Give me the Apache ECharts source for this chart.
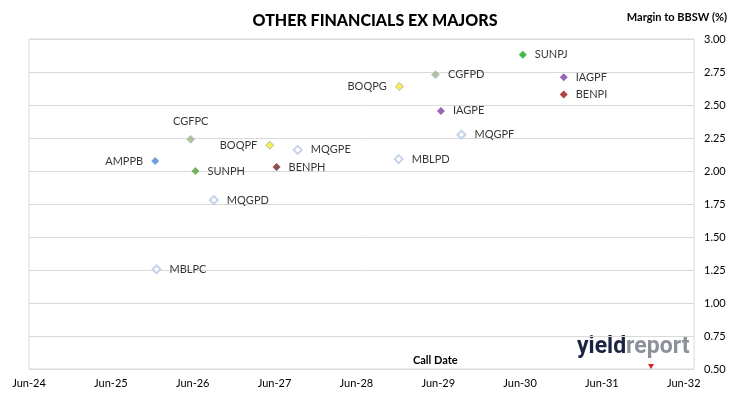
<!DOCTYPE html>
<html>
<head>
<meta charset="utf-8">
<title>Other Financials ex Majors</title>
<script src="https://cdn.jsdelivr.net/npm/echarts@6/dist/echarts.min.js"></script>
<style>
  html, body { margin: 0; padding: 0; background: #fff; }
  #chart { width: 730px; height: 399px; }
</style>
</head>
<body>
<div id="chart"></div>
<script>
// securities, call dates and margins
const names = ['SUNPJ', 'CGFPD', 'BOQPG', 'IAGPF', 'BENPI', 'IAGPE', 'MQGPF', 'MBLPD',
               'CGFPC', 'BOQPF', 'MQGPE', 'AMPPB', 'SUNPH', 'BENPH', 'MQGPD', 'MBLPC'];
const callDates = ['2030-06-13', '2029-05-19', '2028-12-10', '2030-12-13', '2030-12-13', '2029-06-13', '2029-09-13', '2028-12-07',
                   '2026-05-22', '2027-05-10', '2027-09-13', '2025-12-16', '2026-06-13', '2027-06-10', '2026-09-04', '2025-12-22'];
const margins = [2.88, 2.73, 2.64, 2.71, 2.58, 2.455, 2.275, 2.09,
                 2.24, 2.195, 2.16, 2.075, 2.00, 2.03, 1.78, 1.255];
const yTicks = [0.5, 3.0];

// marker look per issuer
const markerStyle = {
  SUNPJ: { color: '#14a81c' },
  SUNPH: { color: '#5b9d3c' },
  CGFPD: { color: '#a4b27c', borderColor: '#a9c0dc', borderWidth: 1 },
  CGFPC: { color: '#a4b27c', borderColor: '#a9c0dc', borderWidth: 1 },
  BOQPG: { color: '#f2ea2c', borderColor: '#a8a8a0', borderWidth: 1 },
  BOQPF: { color: '#f2ea2c', borderColor: '#a8a8a0', borderWidth: 1 },
  IAGPF: { color: '#7a3ea6' },
  IAGPE: { color: '#7a3ea6' },
  BENPI: { color: '#a01414' },
  BENPH: { color: '#6e2626' },
  AMPPB: { color: '#4f86d0' },
  MQGPF: { color: '#ffffff', borderColor: '#b6c8e6', borderWidth: 2 },
  MQGPE: { color: '#ffffff', borderColor: '#b6c8e6', borderWidth: 2 },
  MQGPD: { color: '#ffffff', borderColor: '#b6c8e6', borderWidth: 2 },
  MBLPD: { color: '#ffffff', borderColor: '#b6c8e6', borderWidth: 2 },
  MBLPC: { color: '#ffffff', borderColor: '#b6c8e6', borderWidth: 2 }
};
// where the name sits next to the marker
const labelSide = { AMPPB: 'left', BOQPG: 'left', BOQPF: 'left', CGFPC: 'top' };

// months since Jun-24
const toMonths = (s) => {
  const [y, m, d] = s.split('-').map(Number);
  return (y - 2024) * 12 + (m - 6) + (d - 1) / 30;
};

const points = names.map((name, i) => ({
  name: name,
  value: [toMonths(callDates[i]), margins[i]],
  itemStyle: markerStyle[name],
  label: { position: labelSide[name] || 'right', distance: 8 }
}));

const myChart = echarts.init(document.getElementById('chart'));

const font = 'Lato, "Open Sans", sans-serif';

const options = {
  animation: false,
  title: {
    text: 'OTHER FINANCIALS EX MAJORS',
    left: 370,
    textAlign: 'center',
    top: 8,
    textStyle: { fontFamily: font, fontSize: 16, fontWeight: 900, color: '#000' }
  },
  grid: {
    left: 29, right: 36, top: 39, bottom: 30,
    show: true, borderColor: '#d9d9d9', borderWidth: 1
  },
  xAxis: {
    type: 'value',
    min: 0,
    max: 97.5,
    interval: 12,
    axisLine: { show: false },
    axisTick: { show: false },
    splitLine: { show: false },
    axisLabel: {
      margin: 9,
      color: '#000',
      fontFamily: font,
      fontSize: 11,
      showMaxLabel: false,
      formatter: (v) => (v % 12 === 0 ? 'Jun-' + (24 + v / 12) : '')
    }
  },
  yAxis: {
    type: 'value',
    position: 'right',
    min: yTicks[0],
    max: yTicks[1],
    interval: 0.25,
    axisLine: { show: false },
    axisTick: { show: false },
    splitLine: { lineStyle: { color: '#d9d9d9', width: 1 } },
    axisLabel: {
      margin: 10,
      color: '#000',
      fontFamily: font,
      fontSize: 11,
      formatter: (v) => v.toFixed(2)
    }
  },
  graphic: [
    {
      type: 'text', right: 3, top: 12,
      style: { text: 'Margin to BBSW (%)', font: 'bold 11px ' + font, fill: '#000' }
    },
    {
      type: 'text', left: 413, top: 355,
      style: { text: 'Call Date', font: 'bold 11px ' + font, fill: '#000', align: 'center' }
    },
    {
      type: 'text', left: 577, top: 336,
      style: {
        text: '{a|yield}{b|report}',
        rich: {
          a: { fontFamily: '"Liberation Sans Narrow", Roboto, sans-serif', fontWeight: 'bold', fontSize: 23, fill: '#1c2340' },
          b: { fontFamily: '"Liberation Sans Narrow", Roboto, sans-serif', fontWeight: 'bold', fontSize: 23, fill: '#8c9098' }
        }
      }
    },
    {
      type: 'polygon',
      shape: { points: [[648, 364], [654, 364], [651, 369]] },
      style: { fill: '#e0201c' }
    }
  ],
  series: [
    {
      type: 'scatter',
      symbol: 'diamond',
      symbolSize: 8,
      data: points,
      label: {
        show: true,
        formatter: '{b}',
        color: '#000',
        fontFamily: font,
        fontSize: 11
      }
    }
  ]
};

myChart.setOption(options);
</script>
</body>
</html>
